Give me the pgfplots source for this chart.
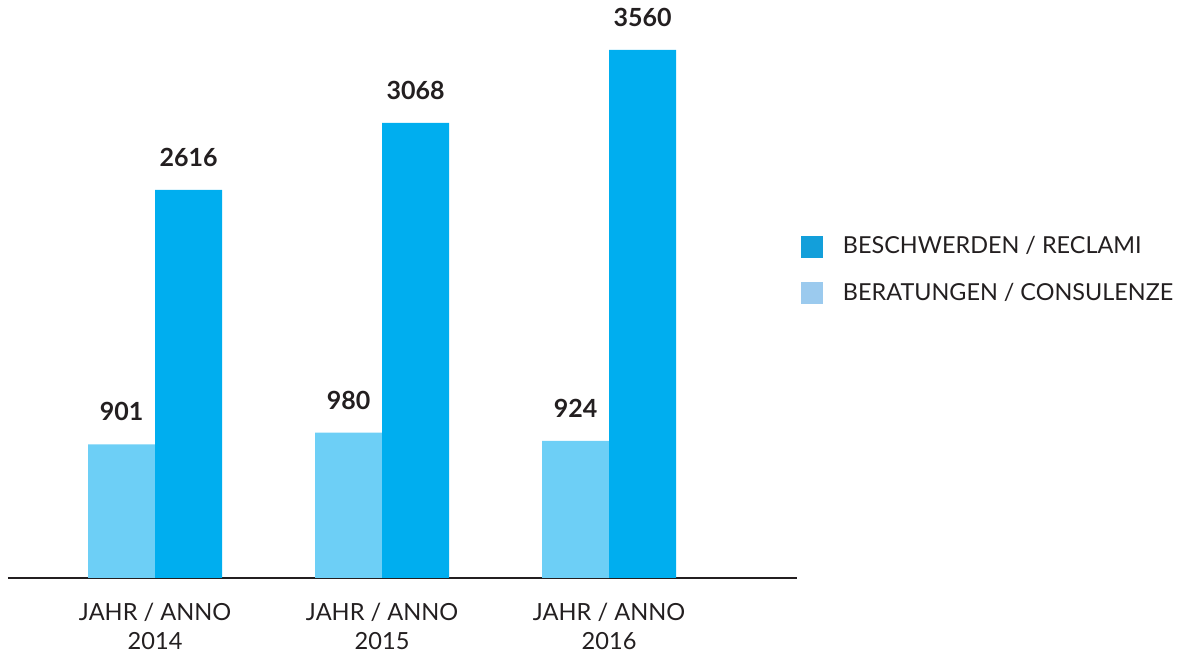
\documentclass[border=0pt]{standalone}
\usepackage{pgfplots}
\pgfplotsset{compat=1.18}
\usepackage{fontspec}
\setmainfont{Lato}
\definecolor{darkbar}{HTML}{00AEEF}
\definecolor{lightbar}{HTML}{6DCFF6}
\definecolor{legdark}{HTML}{139FDA}
\definecolor{leglight}{HTML}{9BCAEE}
\definecolor{txt}{HTML}{231F20}
\begin{document}
\begin{tikzpicture}[x=1pt,y=1pt]
\useasboundingbox (-4,-39) rectangle (594.5,289);
\begin{axis}[
  at={(0,0)}, anchor=south west,
  scale only axis, width=394.5pt, height=289pt,
  xmin=-0.648, xmax=2.828, ymin=0, ymax=3897,
  axis x line=bottom, axis y line=none,
  axis line style={-, draw=txt, line width=0.8pt},
  xtick={0,1,2},
  xticklabels={{JAHR / ANNO\\2014},{JAHR / ANNO\\2015},{JAHR / ANNO\\2016}},
  xticklabel style={align=center, font=\fontsize{11.8}{14.2}\selectfont, text=txt, inner sep=0pt, yshift=-12.5pt},
  major tick length=0pt,
  ybar, bar width=0.295,
  nodes near coords,
  /pgf/number format/.cd, 1000 sep={}, assume math mode=true, /pgfplots/.cd,
  every node near coord/.append style={font=\fontsize{12.5}{14}\selectfont\bfseries, text=txt, anchor=south, inner sep=0pt, yshift=11.5pt},
  legend style={at={(1.004,0.598)}, anchor=north west, draw=none, fill=none, inner sep=0pt,
    font=\fontsize{11.7}{13}\selectfont, text=txt, row sep=9pt},
  legend cell align=left,
  legend image code/.code={\fill[#1, draw=none] (0pt,-5.6pt) rectangle (11pt,5.6pt); \path (19pt,0pt);},
]
\addlegendimage{fill=legdark}
\addlegendentry{BESCHWERDEN / RECLAMI}
\addlegendimage{fill=leglight}
\addlegendentry{BERATUNGEN / CONSULENZE}
\addplot[fill=lightbar, draw=none, bar shift=-0.1475, forget plot] coordinates {(0,901) (1,980) (2,924)};
\addplot[fill=darkbar, draw=none, bar shift=0.1475, forget plot] coordinates {(0,2616) (1,3068) (2,3560)};
\end{axis}
\end{tikzpicture}
\end{document}
